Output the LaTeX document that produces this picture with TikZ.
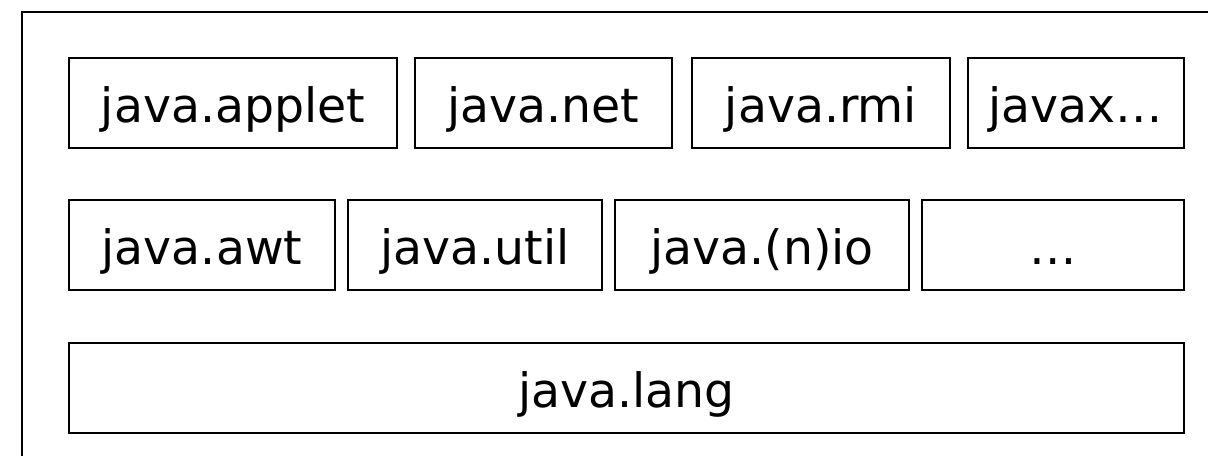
\documentclass[tikz,border=0pt]{standalone}
\usepackage{fontspec}
\setmainfont{DejaVu Sans}
\begin{document}
\begin{tikzpicture}[x=0.75pt,y=-0.75pt,
  pkg/.style={draw=black, line width=1.6pt, rectangle, inner sep=0pt,
    minimum height=67.5pt, text height=28.5pt, text depth=0pt,
    font=\fontsize{35.5}{40}\selectfont},
  frame/.style={draw=black, line width=1.8pt}]
\useasboundingbox (0,0) rectangle (1208,455);
\clip (0,0) rectangle (1208,455);
\fill[white] (0,0) rectangle (1208,455);
\draw[frame] (22,12) rectangle (1260,520);
% row 1
\node[pkg, minimum width=246pt] (b1) at (233,103) {java.applet};
\node[pkg, minimum width=192.75pt] (b2) at (543.5,103) {java.net};
\node[pkg, minimum width=193.5pt] (b3) at (821,103) {java.rmi};
\node[pkg, minimum width=162pt] (b4) at (1076,103) {javax…};
% row 2
\node[pkg, minimum width=199.5pt] (c1) at (202,245) {java.awt};
\node[pkg, minimum width=190.5pt] (c2) at (475,245) {java.util};
\node[pkg, minimum width=220.5pt] (c3) at (762,245) {java.(n)io};
\node[pkg, minimum width=196.5pt] (c4) at (1053,245) {…};
% row 3
\node[pkg, minimum width=836.25pt] (lang) at (626.5,388) {java.lang};
\end{tikzpicture}
\end{document}
